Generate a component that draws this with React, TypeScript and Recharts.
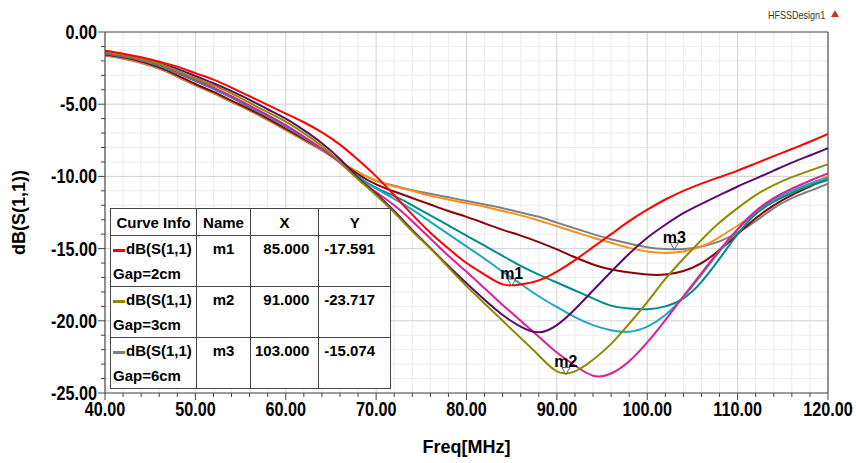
import React from 'react';
import {
  ComposedChart,
  Line,
  Scatter,
  XAxis,
  YAxis,
  ReferenceLine,
} from 'recharts';

// frequency points (MHz)
const freq = [
  40, 42, 44, 46, 48, 50, 52, 54, 56, 58, 60, 62, 64, 66, 68, 70, 72, 74, 76, 78, 80,
  82, 84, 86, 88, 90, 92, 94, 96, 98, 100, 102, 104, 106, 108, 110, 112, 114, 116, 118, 120,
];

// dB(S(1,1)) per curve
const gap2 = [
  -1.3, -1.5, -1.75, -2.05, -2.4, -2.85, -3.3, -3.85, -4.45, -5.05, -5.65, -6.25, -6.95, -7.8, -8.85, -10.0,
  -11.3, -12.65, -13.9, -15.0, -16.0, -16.8, -17.48, -17.48, -17.2, -16.6, -15.8, -14.9, -14.0, -13.1,
  -12.3, -11.6, -11.0, -10.5, -10.05, -9.6, -9.1, -8.6, -8.1, -7.6, -7.06,
];
const gap3 = [
  -1.4, -1.6, -1.85, -2.2, -2.7, -3.2, -3.7, -4.25, -4.9, -5.55, -6.2, -7.0, -7.9, -9.0, -10.2, -11.3,
  -12.5, -13.8, -15.0, -16.3, -17.6, -18.8, -20.0, -21.2, -22.4, -23.5, -23.5, -22.7, -21.6, -20.2,
  -18.7, -17.1, -15.7, -14.4, -13.2, -12.2, -11.3, -10.6, -10.05, -9.6, -9.16,
];
const gap6 = [
  -1.65, -1.85, -2.15, -2.55, -3.1, -3.7, -4.25, -4.85, -5.45, -6.1, -6.8, -7.5, -8.2, -9.0, -9.7, -10.3,
  -10.65, -10.95, -11.2, -11.45, -11.7, -11.95, -12.2, -12.5, -12.8, -13.2, -13.6, -14.0, -14.35, -14.65,
  -14.9, -15.03, -15.03, -14.85, -14.5, -13.9, -13.1, -12.2, -11.5, -11.0, -10.5,
];
const orangeCurve = [
  -1.6, -1.8, -2.1, -2.5, -3.05, -3.65, -4.2, -4.8, -5.4, -6.05, -6.75, -7.45, -8.15, -8.95, -9.7, -10.3,
  -10.7, -11.0, -11.35, -11.6, -11.85, -12.1, -12.4, -12.7, -13.05, -13.45, -13.85, -14.25, -14.6, -14.95,
  -15.2, -15.3, -15.2, -14.85, -14.2, -13.4, -12.6, -11.7, -11.0, -10.5, -10.0,
];
const maroonCurve = [
  -1.55, -1.75, -2.05, -2.45, -3.0, -3.6, -4.15, -4.75, -5.35, -6.0, -6.7, -7.4, -8.1, -8.95, -9.85, -10.55,
  -11.05, -11.5, -11.95, -12.4, -12.8, -13.25, -13.7, -14.1, -14.55, -15.05, -15.6, -16.1, -16.45, -16.65,
  -16.8, -16.8, -16.55, -16.0, -15.1, -14.0, -12.9, -12.0, -11.3, -10.7, -10.1,
];
const purpleCurve = [
  -1.35, -1.55, -1.8, -2.15, -2.55, -3.05, -3.55, -4.1, -4.7, -5.35, -6.0, -6.8, -7.7, -8.8, -10.1, -11.2,
  -12.4, -13.7, -14.95, -16.2, -17.4, -18.55, -19.6, -20.4, -20.8, -20.3, -19.2, -17.9, -16.6, -15.35,
  -14.25, -13.35, -12.55, -11.9, -11.3, -10.7, -10.15, -9.6, -9.05, -8.55, -8.05,
];
const tealCurve = [
  -1.5, -1.7, -1.95, -2.35, -2.85, -3.4, -3.95, -4.55, -5.2, -5.85, -6.55, -7.3, -8.1, -9.0, -10.0, -10.8,
  -11.35, -12.0, -12.7, -13.4, -14.1, -14.8, -15.5, -16.2, -16.8, -17.35, -17.9, -18.45, -18.95, -19.15,
  -19.2, -19.0, -18.45, -17.3, -15.7, -14.0, -12.6, -11.75, -11.15, -10.65, -10.25,
];
const cyanCurve = [
  -1.45, -1.65, -1.95, -2.3, -2.8, -3.35, -3.9, -4.5, -5.15, -5.8, -6.5, -7.3, -8.1, -9.0, -10.05, -10.85,
  -11.55, -12.3, -13.15, -14.0, -14.85, -15.7, -16.6, -17.45, -18.3, -19.05, -19.75, -20.3, -20.65, -20.75,
  -20.4, -19.6, -18.35, -16.8, -15.2, -13.7, -12.45, -11.6, -11.0, -10.5, -10.1,
];
const magentaCurve = [
  -1.45, -1.65, -1.9, -2.25, -2.75, -3.3, -3.85, -4.45, -5.1, -5.75, -6.45, -7.25, -8.1, -9.05, -10.15, -11.1,
  -12.0, -13.1, -14.3, -15.5, -16.6, -17.75, -18.9, -20.0, -21.1, -22.2, -23.1, -23.8, -23.65, -22.8,
  -21.5, -19.95, -18.3, -16.7, -15.1, -13.65, -12.4, -11.5, -10.85, -10.3, -9.8,
];

// markers
const markerNames = ['m1', 'm2', 'm3'];
const markerX = [85, 91, 103];
const markerY = [-17.591, -23.717, -15.074];
const markerGap = ['Gap=2cm', 'Gap=3cm', 'Gap=6cm'];
const markerColor = ['#ff0000', '#8c8c00', '#808080'];

// axis ticks
const xMajor = [40, 50, 60, 70, 80, 90, 100, 110, 120];
const xMinor = [
  42, 44, 46, 48, 52, 54, 56, 58, 62, 64, 66, 68, 72, 74, 76, 78, 82, 84, 86, 88, 92, 94, 96, 98,
  102, 104, 106, 108, 112, 114, 116, 118,
];
const yMajor = [0, -5, -10, -15, -20, -25];
const yMinor = [
  -1, -2, -3, -4, -6, -7, -8, -9, -11, -12, -13, -14, -16, -17, -18, -19, -21, -22, -23, -24,
];
const yTicks = [
  0, -1, -2, -3, -4, -5, -6, -7, -8, -9, -10, -11, -12, -13, -14, -15, -16, -17, -18, -19, -20,
  -21, -22, -23, -24, -25,
];

const series = [
  { key: 'gap6', values: gap6, color: '#808080' },
  { key: 'orange', values: orangeCurve, color: '#f7901e' },
  { key: 'maroon', values: maroonCurve, color: '#8b0000' },
  { key: 'teal', values: tealCurve, color: '#008b8b' },
  { key: 'cyan', values: cyanCurve, color: '#1ea7bf' },
  { key: 'magenta', values: magentaCurve, color: '#dc1e9a' },
  { key: 'purple', values: purpleCurve, color: '#5c0c66' },
  { key: 'gap3', values: gap3, color: '#8c8c00' },
  { key: 'gap2', values: gap2, color: '#ff0000' },
];

const data = freq.map((f, i) => {
  const row: Record<string, number> = { f };
  series.forEach((s) => {
    row[s.key] = s.values[i];
  });
  return row;
});

const markers = markerNames.map((name, i) => ({ f: markerX[i], m: markerY[i], name }));

const FONT = '"Liberation Sans", Arial, sans-serif';

const XTick = (props: any) => {
  const { x, y, payload } = props;
  const major = xMajor.includes(payload.value);
  return (
    <g>
      <line x1={x} y1={y} x2={x} y2={y + (major ? 7 : 4)} stroke="#444" />
      {major && (
        <text
          transform={`translate(${x},${y + 23}) scale(0.9,1.08)`}
          textAnchor="middle"
          fontSize={18}
          fontWeight="bold"
          fill="#000"
          fontFamily={FONT}
        >
          {payload.value.toFixed(2)}
        </text>
      )}
    </g>
  );
};

const YTick = (props: any) => {
  const { x, y, payload } = props;
  const major = yMajor.includes(payload.value);
  return (
    <g>
      <line x1={x} y1={y} x2={x - (major ? 7 : 4)} y2={y} stroke="#444" />
      {major && (
        <text
          transform={`translate(${x - 8},${y + 7}) scale(0.9,1.08)`}
          textAnchor="end"
          fontSize={18}
          fontWeight="bold"
          fill="#000"
          fontFamily={FONT}
        >
          {payload.value.toFixed(2)}
        </text>
      )}
    </g>
  );
};

const MarkerShape = (props: any) => {
  const { cx, cy, payload } = props;
  return (
    <g>
      <polygon
        points={`${cx - 4},${cy - 7} ${cx + 4},${cy - 7} ${cx},${cy}`}
        fill="#fff"
        stroke="#333"
        strokeWidth={0.8}
      />
      <text x={cx} y={cy - 7} textAnchor="middle" fontSize={16} fontWeight="bold" fill="#000" fontFamily={FONT}>
        {payload.name}
      </text>
    </g>
  );
};

const cell: React.CSSProperties = {
  border: '1px solid #444',
  padding: '0 4px',
  fontWeight: 'bold',
  fontSize: 15,
  color: '#000',
  verticalAlign: 'top',
  lineHeight: '25px',
};

function InfoTable() {
  return (
    <table
      style={{
        position: 'absolute',
        left: 110,
        top: 208,
        borderCollapse: 'collapse',
        background: '#fff',
        fontFamily: FONT,
        tableLayout: 'fixed',
      }}
    >
      <colgroup>
        <col style={{ width: 86 }} />
        <col style={{ width: 54 }} />
        <col style={{ width: 66 }} />
        <col style={{ width: 72 }} />
      </colgroup>
      <tbody>
        <tr style={{ height: 27 }}>
          <td style={{ ...cell, textAlign: 'center', verticalAlign: 'middle' }}>Curve Info</td>
          <td style={{ ...cell, textAlign: 'center', verticalAlign: 'middle' }}>Name</td>
          <td style={{ ...cell, textAlign: 'center', verticalAlign: 'middle' }}>X</td>
          <td style={{ ...cell, textAlign: 'center', verticalAlign: 'middle' }}>Y</td>
        </tr>
        {markerNames.map((name, i) => (
          <tr key={name} style={{ height: 51 }}>
            <td style={{ ...cell, padding: '0 2px', whiteSpace: 'nowrap' }}>
              <span
                style={{
                  display: 'inline-block',
                  width: 12,
                  height: 3,
                  background: markerColor[i],
                  verticalAlign: 'middle',
                  marginRight: 1,
                }}
              />
              dB(S(1,1)
              <br />
              {markerGap[i]}
            </td>
            <td style={{ ...cell, textAlign: 'center' }}>{name}</td>
            <td style={{ ...cell, textAlign: 'right', paddingRight: 9 }}>{markerX[i].toFixed(3)}</td>
            <td style={{ ...cell, textAlign: 'left', paddingLeft: 5 }}>{markerY[i].toFixed(3)}</td>
          </tr>
        ))}
      </tbody>
    </table>
  );
}

export default function App() {
  return (
    <div style={{ position: 'absolute', left: 0, top: 0, width: 856, height: 463, background: '#fff' }}>
      <ComposedChart
        width={856}
        height={463}
        data={data}
        margin={{ top: 32, right: 28, bottom: 0, left: 0 }}
      >
        {xMinor.map((v) => (
          <ReferenceLine key={`gx${v}`} x={v} stroke="#ececec" strokeWidth={1} />
        ))}
        {yMinor.map((v) => (
          <ReferenceLine key={`gy${v}`} y={v} stroke="#ececec" strokeWidth={1} />
        ))}
        {xMajor.map((v) => (
          <ReferenceLine key={`Gx${v}`} x={v} stroke="#d2d2d2" strokeWidth={1} />
        ))}
        {yMajor.map((v) => (
          <ReferenceLine key={`Gy${v}`} y={v} stroke="#d2d2d2" strokeWidth={1} />
        ))}
        <ReferenceLine y={0} stroke="#555" strokeWidth={1.2} />
        <ReferenceLine x={120} stroke="#555" strokeWidth={1.2} />
        <XAxis
          dataKey="f"
          type="number"
          domain={[40, 120]}
          ticks={freq}
          interval={0}
          height={70}
          tickLine={false}
          tickSize={0}
          tickMargin={0}
          tick={<XTick />}
          axisLine={{ stroke: '#555', strokeWidth: 1.2 }}
          allowDataOverflow
          label={{
            value: 'Freq[MHz]',
            position: 'insideBottom',
            offset: 10,
            style: { fontSize: 18, fontWeight: 'bold', fill: '#000', fontFamily: FONT },
          }}
        />
        <YAxis
          type="number"
          domain={[-25, 0]}
          ticks={yTicks}
          interval={0}
          width={105}
          tickLine={false}
          tickSize={0}
          tickMargin={0}
          tick={<YTick />}
          axisLine={{ stroke: '#555', strokeWidth: 1.2 }}
          allowDataOverflow
          label={{
            value: 'dB(S(1,1))',
            angle: -90,
            position: 'insideLeft',
            offset: 19,
            style: { fontSize: 18, fontWeight: 'bold', fill: '#000', fontFamily: FONT, textAnchor: 'middle' },
          }}
        />
        {series.map((s) => (
          <Line
            key={s.key}
            dataKey={s.key}
            type="natural"
            stroke={s.color}
            strokeWidth={2}
            dot={false}
            activeDot={false}
            isAnimationActive={false}
          />
        ))}
        <Scatter data={markers} dataKey="m" shape={<MarkerShape />} isAnimationActive={false} />
      </ComposedChart>
      <InfoTable />
      <div
        style={{
          position: 'absolute',
          left: 768,
          top: 9,
          fontFamily: FONT,
          fontSize: 11,
          color: '#333',
          transform: 'scaleX(0.82)',
          transformOrigin: 'left top',
        }}
      >
        HFSSDesign1
      </div>
      <svg style={{ position: 'absolute', left: 831, top: 10 }} width={8} height={8}>
        <polygon points="4,0 8,7 0,7" fill="#c0392b" />
      </svg>
    </div>
  );
}
